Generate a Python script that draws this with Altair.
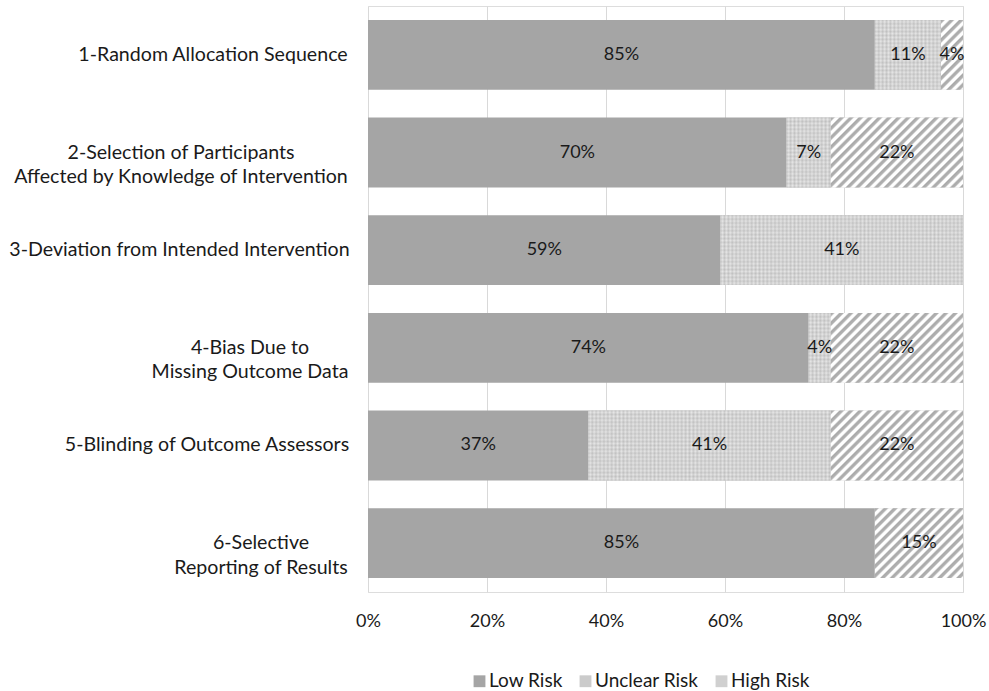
import altair as alt
import pandas as pd

# ---- data: share of studies (%) per risk-of-bias judgement ----
categories = [
    "1-Random Allocation Sequence",
    "2-Selection of Participants|Affected by Knowledge of Intervention",
    "3-Deviation from Intended Intervention",
    "4-Bias Due to|Missing Outcome Data",
    "5-Blinding of Outcome Assessors",
    "6-Selective|Reporting of Results",
]
risk_levels = ["Low Risk", "Unclear Risk", "High Risk"]
low_risk = [85.19, 70.37, 59.26, 74.07, 37.04, 85.19]
unclear_risk = [11.11, 7.41, 40.74, 3.70, 40.74, 0.0]
high_risk = [3.70, 22.22, 0.0, 22.22, 22.22, 14.81]
x_ticks = [0, 20, 40, 60, 80, 100]

rows = []
for i, cat in enumerate(categories):
    for j, (risk, vals) in enumerate(zip(risk_levels, [low_risk, unclear_risk, high_risk])):
        rows.append({"category": cat, "risk": risk, "order": j, "value": vals[i]})
df = pd.DataFrame(rows)

# ---- layout ----
PLOT_W, PLOT_H = 595, 586
PAD_INNER, PAD_OUTER = 0.285, 0.143
STEP = PLOT_H / (len(categories) - PAD_INNER + 2 * PAD_OUTER)
BAR_H = STEP * (1 - PAD_INNER)
FONT = "Lato"
TEXT = "#1a1a1a"
LOW = "#a5a5a5"

# distance from the axis to the centre of each (centred, possibly two-line) label
label_pad = {
    categories[0]: 155.5,
    categories[1]: 187.5,
    categories[2]: 189,
    categories[3]: 118.5,
    categories[4]: 161.5,
    categories[5]: 107.5,
}


def stops_js(n, pattern):
    """Repeat a (phase, colour) pattern n times as a Vega gradient stop list."""
    out = []
    for k in range(n):
        for ph, col in pattern:
            out.append(f"{{offset:{(k + ph) / n:.5f},color:'{col}'}}")
    out.append(f"{{offset:1,color:'{pattern[0][1]}'}}")
    return "[" + ",".join(out) + "]"


def stops_list(n, pattern):
    out = []
    for k in range(n):
        for ph, col in pattern:
            out.append({"offset": round((k + ph) / n, 5), "color": col})
    out.append({"offset": 1, "color": pattern[0][1]})
    return out


# diagonal hatch for "High Risk": t = (x + y) / L in pixel space -> 45 degree stripes
HATCH_L, HATCH_N = 475, 50
hatch_pattern = [(0.0, "#a9a9a9"), (0.3, "#b2b2b2"), (0.5, "#ffffff"), (0.8, "#ffffff")]
H2 = BAR_H * BAR_H
hatch_expr = (
    "{gradient:'linear',x1:0,y1:0,"
    f"x2:{HATCH_L}*datum.pw/(datum.pw*datum.pw+{H2:.2f}),"
    f"y2:{HATCH_L * BAR_H:.2f}/(datum.pw*datum.pw+{H2:.2f}),"
    f"stops:{stops_js(HATCH_N, hatch_pattern)}}}"
)

# fine dotted texture for "Unclear Risk": horizontal bands + translucent vertical bands
ROWS_N = 18
row_grad = {
    "gradient": "linear", "x1": 0, "y1": 0, "x2": 0, "y2": 1,
    "stops": stops_list(ROWS_N, [(0.0, "#c3c3c3"), (0.5, "#e2e2e2")]),
}
COL_L, COL_N = 700, 180
col_expr = (
    "{gradient:'linear',x1:0,y1:0,"
    f"x2:{COL_L}/datum.pw,y2:0,"
    f"stops:{stops_js(COL_N, [(0.0, '#bababa'), (0.5, '#ececec')])}}}"
)

pad_cond = [
    {"test": f"datum.value == '{c}'", "value": p} for c, p in label_pad.items()
]

y_enc = alt.Y(
    "category:N",
    sort=categories,
    title=None,
    scale=alt.Scale(paddingInner=PAD_INNER, paddingOuter=PAD_OUTER),
    axis=alt.Axis(
        labelExpr="split(datum.label, '|')",
        labelAlign="center",
        labelBaseline="middle",
        labelPadding={"condition": pad_cond, "value": 150},
        labelFont=FONT,
        labelFontSize=19.6,
        labelColor=TEXT,
        labelLineHeight=24.5,
        labelLimit=400,
        domain=False,
        ticks=False,
        grid=False,
    ),
)
x_enc = alt.X(
    "start:Q",
    title=None,
    scale=alt.Scale(domain=[0, 100], nice=False, zero=True),
    axis=alt.Axis(
        values=x_ticks,
        labelExpr="datum.value + '%'",
        labelFont=FONT,
        labelFontSize=18,
        labelColor=TEXT,
        labelPadding=20,
        labelFlush=False,
        domain=False,
        ticks=False,
        grid=True,
        gridColor="#d9d9d9",
        gridWidth=1,
    ),
)

base = (
    alt.Chart(df)
    .transform_filter("datum.value > 0")
    .transform_stack(
        stack="value",
        as_=["start", "end"],
        groupby=["category"],
        sort=[alt.SortField("order", order="ascending")],
    )
    .transform_calculate(
        pw=f"(datum.end - datum.start) * {PLOT_W / 100}",
        mid="(datum.start + datum.end) / 2",
        lab="format(datum.value, '.0f') + '%'",
    )
)

solid = base.mark_bar().encode(
    y=y_enc,
    x=x_enc,
    x2="end:Q",
    color=alt.Color(
        "risk:N",
        sort=risk_levels,
        scale=alt.Scale(domain=risk_levels, range=[LOW, "#cbcbcb", "#d0d0d0"]),
        legend=alt.Legend(
            title=None,
            orient="none",
            direction="horizontal",
            legendX=102,
            legendY=665.5,
            symbolType="square",
            symbolSize=140,
            symbolStrokeWidth=0,
            labelFont=FONT,
            labelFontSize=19,
            labelColor=TEXT,
            labelOffset=0,
            columnPadding=13,
        ),
    ),
)

unclear_rows = (
    base.transform_filter("datum.risk == 'Unclear Risk'")
    .mark_bar(color=row_grad)
    .encode(y=y_enc, x=x_enc, x2="end:Q")
)
unclear_cols = (
    base.transform_filter("datum.risk == 'Unclear Risk'")
    .transform_calculate(tex=col_expr)
    .mark_bar(fillOpacity=0.45)
    .encode(y=y_enc, x=x_enc, x2="end:Q", fill=alt.Fill("tex:N", scale=None, legend=None))
)
hatch = (
    base.transform_filter("datum.risk == 'High Risk'")
    .transform_calculate(tex=hatch_expr)
    .mark_bar()
    .encode(y=y_enc, x=x_enc, x2="end:Q", fill=alt.Fill("tex:N", scale=None, legend=None))
)
labels = base.mark_text(font=FONT, fontSize=18, color=TEXT).encode(
    y=y_enc,
    x=alt.X("mid:Q", title=None, scale=alt.Scale(domain=[0, 100], nice=False)),
    text="lab:N",
)

chart = (
    alt.layer(solid, unclear_rows, unclear_cols, hatch, labels)
    .properties(
        width=PLOT_W,
        height=PLOT_H,
        autosize="none",
        padding={"left": 368, "top": 6, "right": 26, "bottom": 99},
    )
    .configure_view(stroke=None)
    .configure(background="white")
)

chart.save("out.html", embed_options={"renderer": "svg", "actions": False})
